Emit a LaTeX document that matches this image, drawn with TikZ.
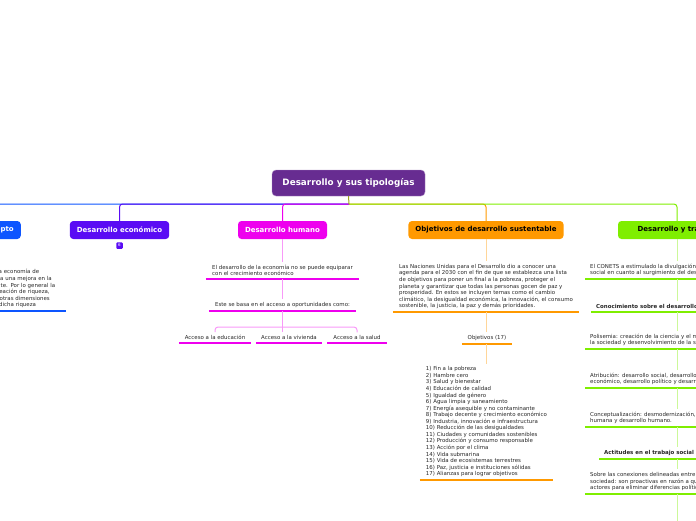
\documentclass[tikz,border=0pt]{standalone}
\usepackage{fontspec}
\setmainfont{DejaVu Sans}
\usepackage{tikz}

\definecolor{titlecol}{HTML}{672C91}
\definecolor{concol}{HTML}{0D55FF}
\definecolor{econcol}{HTML}{5A0CF4}
\definecolor{humcol}{HTML}{EE00EE}
\definecolor{odscol}{HTML}{FF9900}
\definecolor{trabcol}{HTML}{7FEE00}
\definecolor{stubcol}{HTML}{9DA51E}
\definecolor{txtcol}{HTML}{262626}

\newcommand{\notefont}{\fontsize{5.45}{6.55}\selectfont}

\tikzset{
  topic/.style={rounded corners=3.5pt, fill=#1, minimum height=18pt, inner xsep=7pt, font=\fontsize{7}{8}\selectfont\bfseries},
  note/.style={align=left, inner xsep=5pt, inner ysep=3pt, text=txtcol, font=\notefont},
  ul/.style={line width=2.6pt, draw=#1},
  link/.style={line width=1pt, draw=#1, rounded corners=3pt},
}

\begin{document}
\begin{tikzpicture}[x=1pt,y=-1pt]
\useasboundingbox (0,0) rectangle (696,520);
\clip (0,0) rectangle (696,520);

% central topic
\node [fill=titlecol, draw=titlecol!55!white, rounded corners=4pt, minimum width=153pt, minimum height=26pt, text=white, font=\fontsize{8.8}{10}\selectfont\bfseries] (title) at (348.5,183) {Desarrollo y sus tipologías};
\coordinate (hub) at (349,204);

% main branches
\node [topic=concol, text=white, anchor=east] (concepto) at (21,230) {Concepto};
\node [topic=econcol, text=white, minimum width=99pt] (economico) at (119.5,230) {Desarrollo económico};
\node [topic=humcol, text=white, minimum width=89pt] (humano) at (282.5,230) {Desarrollo humano};
\node [topic=odscol, text=black, minimum width=154pt] (ods) at (486,230) {Objetivos de desarrollo sustentable};
\node [topic=trabcol, text=black, minimum width=118pt] (trabajo) at (677,230) {Desarrollo y trabajo};
\node [fill=econcol, text=white, rounded corners=1pt, inner sep=0.8pt, minimum size=6.5pt, font=\fontsize{4}{4}\selectfont] (econnum) at (119.5,245.5) {6};

\draw [link=concol] (hub) -| (concepto.north);
\draw [link=econcol] (hub) -| (economico.north);
\draw [link=odscol] (hub) -| (ods.north);
\draw [link=trabcol] (hub) -| (trabajo.north);
\draw [link=humcol] (hub) -| (humano.north);
\draw [link=stubcol] (title.south) -- (hub);

% concepto
\node [note, anchor=south west, text width=66pt, inner xsep=3pt] (condef) at (-6,311) {la economía de\\ca una mejora en la\\nte. Por lo general la\\reación de riqueza,\\\hspace{2.5pt}otras dimensiones\\\hspace{2pt}dicha riqueza};
\draw [ul=concol] (condef.south west) -- (condef.south east);
\draw [link=concol!50] (concepto.south) -- (concepto.south |- condef.north);

% desarrollo humano
\node [note, anchor=south, minimum width=153pt] (humeco) at (282.5,279) {El desarrollo de la economía no se puede equiparar\\con el crecimiento económico};
\node [note, anchor=south, minimum width=147pt] (humbase) at (282.5,311) {Este se basa en el acceso a oportunidades como:};
\node [note, anchor=south, minimum width=72pt] (acceduc) at (215,343) {Acceso a la educación};
\node [note, anchor=south, minimum width=66pt] (accviv) at (289,343) {Acceso a la vivienda};
\node [note, anchor=south, minimum width=59pt] (accsal) at (357,343) {Acceso a la salud};
\coordinate (humfork) at (282.5,327);
\draw [ul=humcol] (humeco.south west) -- (humeco.south east);
\draw [ul=humcol] (humbase.south west) -- (humbase.south east);
\draw [ul=humcol] (acceduc.south west) -- (acceduc.south east);
\draw [ul=humcol] (accviv.south west) -- (accviv.south east);
\draw [ul=humcol] (accsal.south west) -- (accsal.south east);
\draw [link=humcol!40] (humano.south) -- (humeco.north);
\draw [link=humcol!40] (humeco.south) -- (humbase.north);
\draw [link=humcol!40] (humbase.south) -- (humfork);
\draw [link=humcol!40] (humfork) -| (acceduc.north);
\draw [link=humcol!40] (humfork) -| (accsal.north);
\draw [link=humcol!40] (humfork) -- (accviv.north -| humfork);

% objetivos de desarrollo sustentable
\node [note, anchor=south, minimum width=186pt] (odsagenda) at (486,312) {Las Naciones Unidas para el Desarrollo dio a conocer una\\agenda para el 2030 con el fin de que se establezca una lista\\de objetivos para poner un final a la pobreza, proteger el\\planeta y garantizar que todas las personas gocen de paz y\\prosperidad. En estos se incluyen temas como el cambio\\climático, la desigualdad económica, la innovación, el consumo\\sostenible, la justicia, la paz y demás prioridades.};
\node [note, anchor=south, minimum width=50pt] (odsnum) at (487,344) {Objetivos (17)};
\node [note, anchor=south, minimum width=133pt] (odslist) at (486.5,480) {1) Fin a la pobreza\\2) Hambre cero\\3) Salud y bienestar\\4) Educación de calidad\\5) Igualdad de género\\6) Agua limpia y saneamiento\\7) Energía asequible y no contaminante\\8) Trabajo decente y crecimiento económico\\9) Industria, innovación e infraestructura\\10) Reducción de las desigualdades\\11) Ciudades y comunidades sostenibles\\12) Producción y consumo responsable\\13) Acción por el clima\\14) Vida submarina\\15) Vida de ecosistemas terrestres\\16) Paz, justicia e instituciones sólidas\\17) Alianzas para lograr objetivos};
\draw [ul=odscol] (odsagenda.south west) -- (odsagenda.south east);
\draw [ul=odscol] (odsnum.south west) -- (odsnum.south east);
\draw [ul=odscol] (odslist.south west) -- (odslist.south east);
\draw [link=odscol!40] (ods.south) -- (odsagenda.north -| ods.south);
\draw [link=odscol!40] (odsagenda.south -| ods.south) -- (odsnum.north -| ods.south);
\draw [link=odscol!40] (odsnum.south -| ods.south) -- (odslist.north -| ods.south);

% desarrollo y trabajo
\node [note, anchor=south west] (tracon) at (585,279) {El CONETS a estimulado la divulgación del trabajo\\social en cuanto al surgimiento del desarrollo};
\node [note, anchor=south west, font=\notefont\bfseries] (trasab) at (591,312) {Conocimiento sobre el desarrollo social};
\node [note, anchor=south west] (trapol) at (585,349) {Polisemia: creación de la ciencia y el medio\\la sociedad y desenvolvimiento de la sociedad};
\node [note, anchor=south west] (traatr) at (585,388) {Atribución: desarrollo social, desarrollo\\económico, desarrollo político y desarrollo};
\node [note, anchor=south west] (tracpt) at (585,427) {Conceptualización: desmodernización,\\humana y desarrollo humano.};
\node [note, anchor=south west, font=\notefont\bfseries] (traact) at (599,459) {Actitudes en el trabajo social};
\node [note, anchor=south west] (tracnx) at (585,494) {Sobre las conexiones delineadas entre\\sociedad: son proactivas en razón a que\\actores para eliminar diferencias políticas};
\coordinate (tranext) at (677,530);
\foreach \n in {tracon,trasab,trapol,traatr,tracpt,traact,tracnx}
  \draw [ul=trabcol] (\n.south west) -- ([xshift=80pt]\n.south east);
\draw [link=trabcol!40] (trabajo.south) -- (tracon.north -| trabajo.south);
\draw [link=trabcol!40] (tracon.south -| trabajo.south) -- (trasab.north -| trabajo.south);
\draw [link=trabcol!40] (trasab.south -| trabajo.south) -- (trapol.north -| trabajo.south);
\draw [link=trabcol!40] (trapol.south -| trabajo.south) -- (traatr.north -| trabajo.south);
\draw [link=trabcol!40] (traatr.south -| trabajo.south) -- (tracpt.north -| trabajo.south);
\draw [link=trabcol!40] (tracpt.south -| trabajo.south) -- (traact.north -| trabajo.south);
\draw [link=trabcol!40] (traact.south -| trabajo.south) -- (tracnx.north -| trabajo.south);
\draw [link=trabcol!40] (tracnx.south -| trabajo.south) -- (tranext);
\end{tikzpicture}
\end{document}
